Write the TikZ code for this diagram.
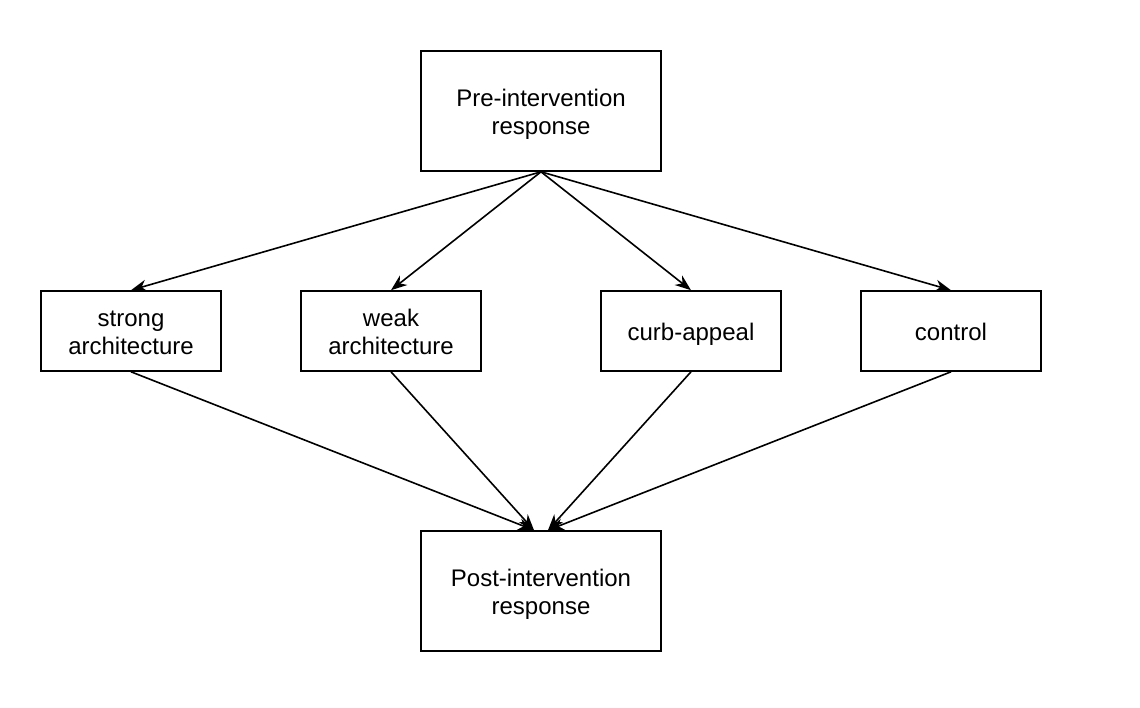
\documentclass[tikz,border=0pt]{standalone}
\usepackage{fontspec}
\setmainfont{Liberation Sans}
\usetikzlibrary{arrows.meta}
% box text sits a little below the geometric centre
\newcommand{\boxtext}[1]{\raisebox{-4pt}[\height][\depth]{\begin{tabular}{@{}c@{}}#1\end{tabular}}}
\begin{document}
\begin{tikzpicture}[x=1pt,y=-1pt,
  box/.style={draw, line width=1.6pt, inner sep=0pt,
    font=\fontsize{24}{28.5}\selectfont},
  bigbox/.style={box, minimum width=240pt, minimum height=120pt},
  smallbox/.style={box, minimum width=180pt, minimum height=80pt},
  link/.style={line width=1.6pt, -{Stealth[length=16pt, width=12pt, inset=5pt]}}]
  \useasboundingbox (0,0) rectangle (1140,708);
  \fill[white] (0,0) rectangle (1140,708);
  % treatment groups sit between the two measurements
  \node[bigbox] (pre) at (541,111) {\boxtext{Pre-intervention\\response}};
  \node[smallbox] (strong) at (131,331) {\boxtext{strong\\architecture}};
  \node[smallbox] (weak) at (391,331) {\boxtext{weak\\architecture}};
  \node[smallbox] (curb) at (691,331) {\boxtext{curb-appeal}};
  \node[smallbox] (ctrl) at (951,331) {\boxtext{control}};
  \node[bigbox] (post) at (541,591) {\boxtext{Post-intervention\\response}};
  \coordinate (inL) at ([xshift=-7pt]post.north);
  \coordinate (inR) at ([xshift=7pt]post.north);
  \draw[link] (pre.south) -- (strong.north);
  \draw[link] (pre.south) -- (weak.north);
  \draw[link] (pre.south) -- (curb.north);
  \draw[link] (pre.south) -- (ctrl.north);
  \draw[link] (strong.south) -- (inL);
  \draw[link] (weak.south) -- (inL);
  \draw[link] (curb.south) -- (inR);
  \draw[link] (ctrl.south) -- (inR);
\end{tikzpicture}
\end{document}
